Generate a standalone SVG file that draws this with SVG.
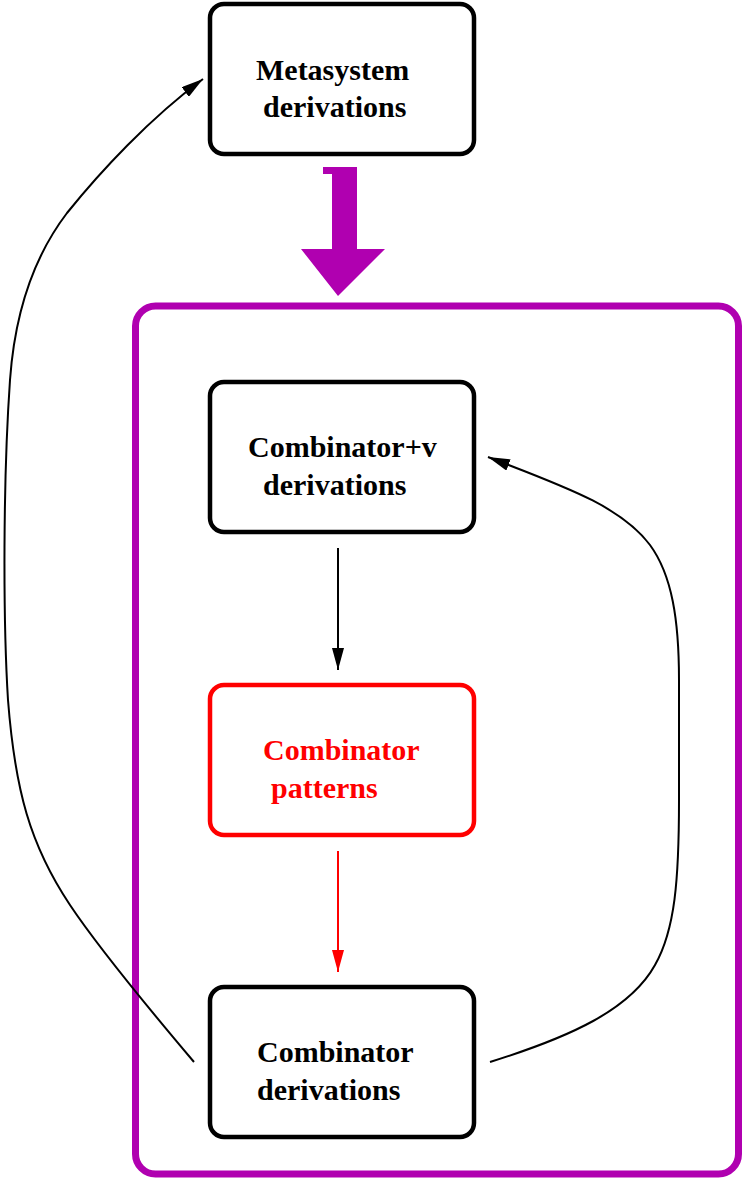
<svg xmlns="http://www.w3.org/2000/svg" width="742" height="1180" viewBox="0 0 742 1180">
<style>
.box{fill:#ffffff;stroke:#000000;stroke-width:4.5}
.redbox{fill:#ffffff;stroke:#ff0000;stroke-width:4.5}
.lbl{font-family:"Liberation Serif","Times New Roman",serif;font-weight:bold;font-size:30px;fill:#000000}
.redlbl{fill:#ff0000}
.conn{fill:none;stroke:#000000;stroke-width:2}
.redconn{fill:none;stroke:#ff0000;stroke-width:2}
</style>
<defs>
<marker id="ah" markerUnits="userSpaceOnUse" markerWidth="22" markerHeight="12" viewBox="0 0 22 12" refX="22" refY="6" orient="auto">
<path d="M0,0 L22,6 L0,12 z" fill="#000000"/>
</marker>
<marker id="ahr" markerUnits="userSpaceOnUse" markerWidth="22" markerHeight="12" viewBox="0 0 22 12" refX="22" refY="6" orient="auto">
<path d="M0,0 L22,6 L0,12 z" fill="#ff0000"/>
</marker>
</defs>
<rect width="742" height="1180" fill="#ffffff"/>
<g id="container">
<rect x="135.5" y="306" width="603" height="868" rx="20" ry="20" fill="none" stroke="#b000b0" stroke-width="7"/>
</g>
<g id="big-arrow">
<polygon points="323,167 357,167 357,249 385,249 338,296 301,249 332,249 332,174 323,174" fill="#b000b0"/>
</g>
<g id="node-metasystem">
<rect class="box" x="210" y="4" width="264" height="150" rx="14" ry="14"/>
<text class="lbl" x="256" y="80">Metasystem</text>
<text class="lbl" x="263" y="117">derivations</text>
</g>
<g id="node-combinator-v">
<rect class="box" x="210" y="382" width="264" height="150" rx="14" ry="14"/>
<text class="lbl" x="248" y="457">Combinator+v</text>
<text class="lbl" x="263" y="495">derivations</text>
</g>
<g id="node-patterns">
<rect class="redbox" x="210" y="685" width="264" height="150" rx="14" ry="14"/>
<text class="lbl redlbl" x="263" y="760">Combinator</text>
<text class="lbl redlbl" x="271" y="798">patterns</text>
</g>
<g id="node-combinator">
<rect class="box" x="210" y="987" width="264" height="150" rx="14" ry="14"/>
<text class="lbl" x="257" y="1062">Combinator</text>
<text class="lbl" x="257" y="1100">derivations</text>
</g>
<g id="connectors">
<path class="conn" d="M338,548 L338,670" marker-end="url(#ah)"/>
<path class="redconn" d="M338,851 L338,972" marker-end="url(#ahr)"/>
<path class="conn" d="M194,1062 C150,1010 100,950 70,905 C30,845 15,790 8,700 C3,620 3,480 10,380 C15,310 35,255 67,213 C100,172 150,118 203,79" marker-end="url(#ah)"/>
<path class="conn" d="M490,1062 C570,1037 630,1010 655,965 C675,930 679,880 679,800 L679,680 C679,620 672,575 650,545 C620,505 560,485 488,457" marker-end="url(#ah)"/>
</g>
</svg>
